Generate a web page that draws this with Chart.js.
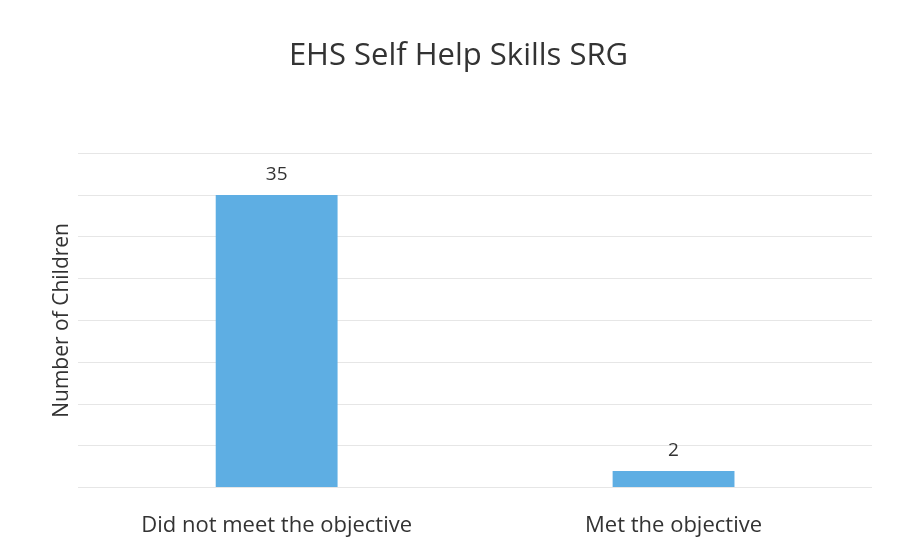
<!DOCTYPE html>
<html>
<head>
<meta charset="utf-8">
<script src="https://cdn.jsdelivr.net/npm/chart.js@4"></script>
<style>
html,body{margin:0;padding:0;background:#fff;}
#wrap{width:898px;height:560px;}
</style>
</head>
<body>
<div id="wrap"><canvas id="c" width="898" height="560"></canvas></div>
<script>
const categories = ["Did not meet the objective", "Met the objective"];
const values = [35, 2];
const yMin = 0;
const yMax = 40;
const yStep = 5;

const valueLabels = {
  id: 'valueLabels',
  afterDatasetsDraw(chart) {
    const ctx = chart.ctx;
    const meta = chart.getDatasetMeta(0);
    ctx.save();
    ctx.font = '19px "Open Sans", sans-serif';
    ctx.fillStyle = '#333';
    ctx.textAlign = 'center';
    ctx.textBaseline = 'bottom';
    meta.data.forEach((bar, i) => {
      ctx.fillText(String(values[i]), bar.x, bar.y - 11);
    });
    ctx.restore();
  }
};

new Chart(document.getElementById('c'), {
  type: 'bar',
  data: {
    labels: categories,
    datasets: [{
      data: values,
      backgroundColor: '#5eaee3',
      borderWidth: 0,
      categoryPercentage: 1,
      barPercentage: 0.307
    }]
  },
  options: {
    responsive: false,
    animation: false,
    layout: { padding: { left: 45, right: 26, top: 0, bottom: 4 } },
    plugins: {
      legend: { display: false },
      tooltip: { enabled: false },
      title: {
        display: true,
        text: 'EHS Self Help Skills SRG',
        color: '#333',
        font: { family: '"Open Sans", sans-serif', size: 31, weight: 'normal' },
        padding: { top: 38, bottom: 78 }
      }
    },
    scales: {
      x: {
        grid: { display: false },
        border: { display: false },
        ticks: {
          color: '#333',
          font: { family: '"Open Sans", sans-serif', size: 22 },
          padding: 17
        }
      },
      y: {
        min: yMin,
        max: yMax,
        ticks: { display: false, stepSize: yStep },
        grid: { color: '#e6e6e6', drawTicks: false },
        border: { display: false },
        title: {
          display: true,
          text: 'Number of Children',
          color: '#333',
          font: { family: '"Open Sans", sans-serif', size: 21 },
          padding: 4
        }
      }
    }
  },
  plugins: [valueLabels]
});
</script>
</body>
</html>
